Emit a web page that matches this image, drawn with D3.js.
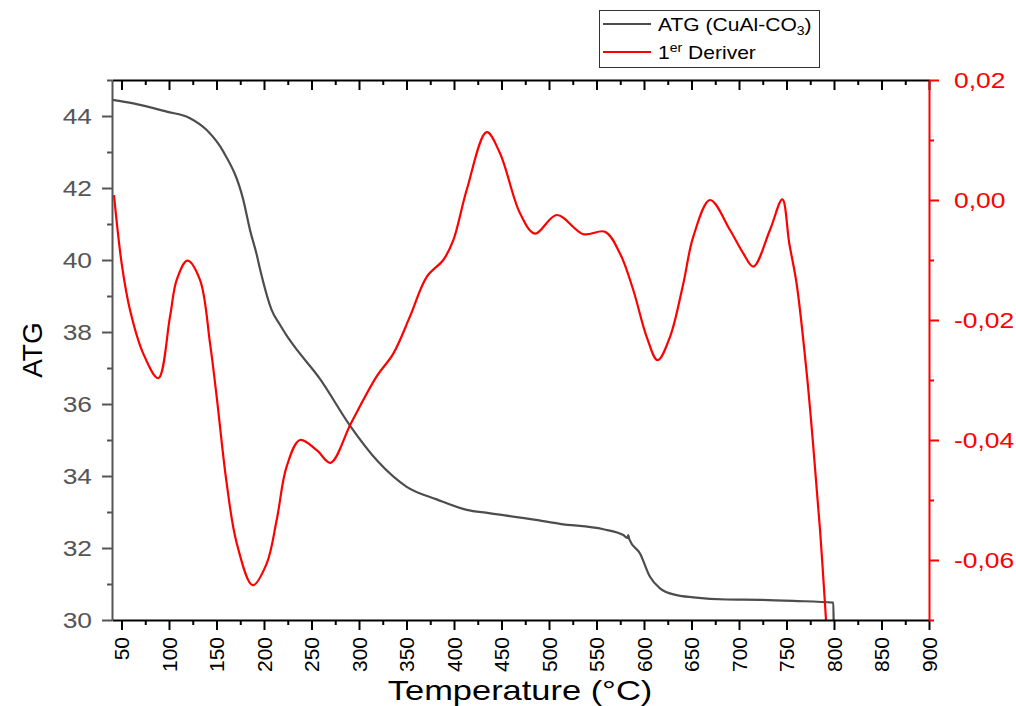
<!DOCTYPE html>
<html><head><meta charset="utf-8">
<script src="https://cdn.jsdelivr.net/npm/d3@7"></script>
<style>body{margin:0;background:#fff;} svg{display:block;font-family:"Liberation Sans",Arial,sans-serif;}</style>
</head><body>
<svg id="c" width="1016" height="706"></svg>
<script>
// ---- data ----
const atgTemp = [40.5,62.4,97.6,122.1,139.7,157.2,178.2,185.3,192.3,195.8,208.1,216.8,223.9,230.8,258.9,290.5,320,350.2,381.8,413.4,436.8,486.3,511.6,557.2,578.2,582.8,583.4,584.6,595.8,606.3,616.8,634.4,651.9,687,722.1,757.2,799.3,799.6];
const atgValue = [44.45,44.35,44.12,43.94,43.61,43.01,41.67,40.83,40.15,39.75,38.61,38.2,37.9,37.64,36.7,35.4,34.4,33.7,33.35,33.06,32.97,32.78,32.67,32.52,32.36,32.28,32.36,32.24,31.85,31.2,30.88,30.69,30.63,30.57,30.56,30.53,30.48,30.0];
const derivTemp = [42.1,50.2,58.9,72.9,88.7,101.1,108.1,119.3,132.6,143.2,150.2,160.7,171.3,188.1,202.8,213.4,223.9,237.9,255.5,270,291.6,318.6,336.1,353.7,371.3,388.7,399.3,413.4,434.4,448.4,469.5,485.3,508.1,536.1,559,574.7,588.7,602.8,614.4,627.4,641.4,651.9,669.5,690.5,704.5,715.1,732.6,745.6,752.9,760.7,771.3,778.2,785.3,791.6];
const derivValue = [0.0008,-0.0106,-0.0183,-0.0256,-0.0297,-0.0194,-0.0133,-0.0101,-0.0133,-0.0239,-0.0328,-0.0472,-0.0572,-0.0642,-0.0606,-0.0533,-0.0444,-0.0400,-0.0417,-0.0438,-0.0372,-0.0294,-0.0256,-0.0194,-0.0128,-0.0100,-0.0067,0.0017,0.0113,0.0078,-0.0022,-0.0056,-0.0025,-0.0057,-0.0053,-0.0089,-0.0150,-0.0228,-0.0267,-0.0228,-0.0139,-0.0061,0.0000,-0.0050,-0.0089,-0.0111,-0.0050,0.0001,-0.0072,-0.0140,-0.0289,-0.0411,-0.0550,-0.0700];
const xTicks = [50,100,150,200,250,300,350,400,450,500,550,600,650,700,750,800,850,900];
const leftTicks = [30,32,34,36,38,40,42,44];
const rightTicks = [-0.06,-0.04,-0.02,0.00,0.02];
const seriesNames = ["ATG (CuAl-CO", "3", ")"];
const derivName = ["1", "er", " Deriver"];

// ---- layout ----
const L = 112, R = 929, T = 80, B = 620;
const SX = 1.2; // horizontal text stretch seen in the reference
const svg = d3.select("#c");
const x = d3.scaleLinear().domain([40, 900]).range([L, R]);
const yL = d3.scaleLinear().domain([30, 45]).range([B, T]);
const yR = d3.scaleLinear().domain([-0.07, 0.02]).range([B, T]);
const gray = "#4d4d4d", red = "#ff0000";

// curves
const atg = atgTemp.map((t,i)=>[t, atgValue[i]]);
const der = derivTemp.map((t,i)=>[t, derivValue[i]]);
svg.append("path").datum(atg).attr("fill","none").attr("stroke",gray).attr("stroke-width",2.2)
  .attr("d", d3.line().x(d=>x(d[0])).y(d=>yL(d[1])).curve(d3.curveMonotoneX));
svg.append("path").datum(der).attr("fill","none").attr("stroke",red).attr("stroke-width",2.2)
  .attr("d", d3.line().x(d=>x(d[0])).y(d=>yR(d[1])).curve(d3.curveCatmullRom.alpha(0.5)));

const xMinor = d3.range(75, 900, 50);
const leftMinor = d3.range(31, 46, 2);
const rightMinor = [-0.07,-0.05,-0.03,-0.01,0.01];

function styleAxis(g, color){
  g.select(".domain").attr("stroke", color).attr("stroke-width", 2);
  g.selectAll(".tick line").attr("stroke", color).attr("stroke-width", 2);
}

// bottom axis
const gb = svg.append("g").attr("transform",`translate(0,${B})`)
  .call(d3.axisBottom(x).tickValues(xTicks).tickSize(10).tickSizeOuter(0).tickFormat(d3.format("d")));
styleAxis(gb, "#000");
gb.selectAll(".tick text").attr("fill","#000").attr("font-size",21)
  .attr("transform","rotate(-90)").attr("text-anchor","end").attr("x",-17).attr("y",0).attr("dy","0.35em");
svg.append("g").attr("transform",`translate(0,${B})`)
  .call(d3.axisBottom(x).tickValues(xMinor).tickSize(5).tickFormat("")).call(g=>{g.select(".domain").remove(); styleAxis(g,"#000");});

// top axis
const gt = svg.append("g").attr("transform",`translate(0,${T})`)
  .call(d3.axisTop(x).tickValues(xTicks).tickSize(-10).tickSizeOuter(0).tickFormat(""));
styleAxis(gt, "#000");
svg.append("g").attr("transform",`translate(0,${T})`)
  .call(d3.axisTop(x).tickValues(xMinor).tickSize(-5).tickFormat("")).call(g=>{g.select(".domain").remove(); styleAxis(g,"#000");});

// left axis
const gl = svg.append("g").attr("transform",`translate(${L},0)`)
  .call(d3.axisLeft(yL).tickValues(leftTicks).tickSize(10).tickSizeOuter(0).tickFormat(d3.format("d")));
styleAxis(gl, "#555");
gl.selectAll(".tick text").attr("fill","#555").attr("font-size",22).attr("x",-20/SX).attr("transform",`scale(${SX},1)`);
svg.append("g").attr("transform",`translate(${L},0)`)
  .call(d3.axisLeft(yL).tickValues(leftMinor).tickSize(5).tickFormat("")).call(g=>{g.select(".domain").remove(); styleAxis(g,"#555");});

// right axis
const fmtR = d => d3.format(".2f")(d).replace(".", ",").replace("−","-");
const gr = svg.append("g").attr("transform",`translate(${R},0)`)
  .call(d3.axisRight(yR).tickValues(rightTicks).tickSize(10).tickSizeOuter(0).tickFormat(fmtR));
styleAxis(gr, red);
gr.selectAll(".tick text").attr("fill",red).attr("font-size",22).attr("x",25/SX).attr("transform",`scale(${SX},1)`);
svg.append("g").attr("transform",`translate(${R},0)`)
  .call(d3.axisRight(yR).tickValues(rightMinor).tickSize(5).tickFormat("")).call(g=>{g.select(".domain").remove(); styleAxis(g,red);});

// titles
svg.append("text").attr("transform",`translate(520,700) scale(${SX+0.03},1)`).attr("text-anchor","middle").attr("font-size",28).attr("fill","#000").text("Temperature (°C)");
svg.append("text").attr("transform","translate(42,350) rotate(-90)").attr("text-anchor","middle").attr("font-size",28).attr("fill","#000").text("ATG");

// legend
const lg = svg.append("g");
lg.append("rect").attr("x",599.5).attr("y",10.5).attr("width",220).attr("height",57).attr("fill","#fff").attr("stroke","#333").attr("stroke-width",1);
lg.append("line").attr("x1",603).attr("x2",651).attr("y1",24).attr("y2",24).attr("stroke",gray).attr("stroke-width",2);
lg.append("line").attr("x1",603).attr("x2",651).attr("y1",52).attr("y2",52).attr("stroke",red).attr("stroke-width",2);
const t1 = lg.append("text").attr("transform","translate(658,31) scale(1.17,1)").attr("font-size",18).attr("fill","#000");
t1.append("tspan").text(seriesNames[0]);
t1.append("tspan").attr("font-size",12).attr("dy",4).text(seriesNames[1]);
t1.append("tspan").attr("dy",-4).text(seriesNames[2]);
const t2 = lg.append("text").attr("transform","translate(658,59) scale(1.17,1)").attr("font-size",18).attr("fill","#000");
t2.append("tspan").text(derivName[0]);
t2.append("tspan").attr("font-size",12).attr("dy",-7).text(derivName[1]);
t2.append("tspan").attr("dy",7).text(derivName[2]);
</script>
</body></html>
